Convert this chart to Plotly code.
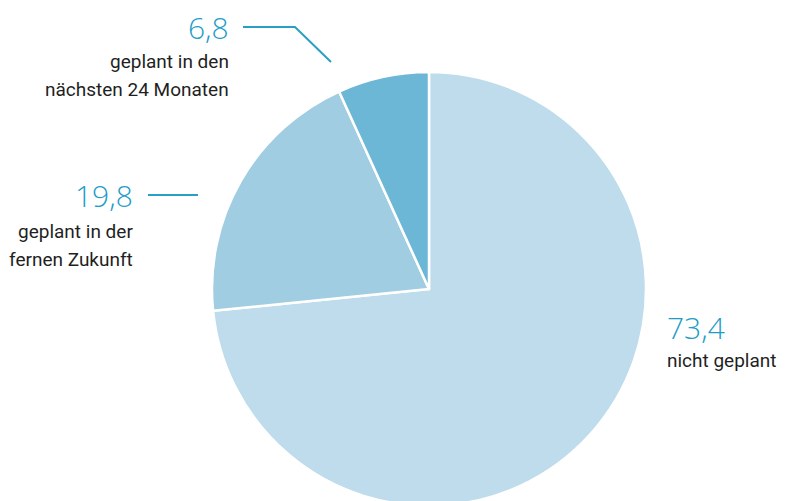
import plotly.graph_objects as go

labels = ["nicht geplant", "geplant in der fernen Zukunft", "geplant in den nächsten 24 Monaten"]
values = [73.4, 19.8, 6.8]
value_text = ["73,4", "19,8", "6,8"]
colors = ["#bfdcec", "#a0cde1", "#6db7d6"]

W, H = 795, 520
def px(x):
    return x / W
def py(y):
    return 1 - y / H

cx, cy, r = 429, 289, 217

fig = go.Figure(go.Pie(
    labels=labels, values=values, sort=False, direction="clockwise", rotation=0,
    marker=dict(colors=colors, line=dict(color="white", width=2.5)),
    textinfo="none", hoverinfo="label+value", showlegend=False,
    domain=dict(x=[px(cx - r), px(cx + r)], y=[py(cy + r), py(cy - r)]),
))

num_font = dict(family="Open Sans", size=30, color="#1e9dc8", weight=300)
txt_font = dict(family="Roboto", size=19, color="#1f1f1f")

ann = [
    (229, 27, value_text[2], num_font, "right"),
    (229, 61, "geplant in den", txt_font, "right"),
    (229, 89, "nächsten 24 Monaten", txt_font, "right"),
    (133, 195, value_text[1], num_font, "right"),
    (133, 231, "geplant in der", txt_font, "right"),
    (133, 259, "fernen Zukunft", txt_font, "right"),
    (667, 327, value_text[0], num_font, "left"),
    (667, 360, "nicht geplant", txt_font, "left"),
]
for x, y, t, f, al in ann:
    fig.add_annotation(x=px(x), y=py(y), xref="paper", yref="paper", text=t,
                       showarrow=False, font=f, xanchor=al, yanchor="middle",
                       xshift=(2 if al == "right" else -2))

line = dict(color="#2a9fc4", width=2)
fig.add_shape(type="path", xref="paper", yref="paper",
              path=f"M {px(243)} {py(27)} L {px(295)} {py(27)} L {px(331)} {py(62)}", line=line)
fig.add_shape(type="line", xref="paper", yref="paper",
              x0=px(148), y0=py(195), x1=px(198), y1=py(195), line=line)

fig.update_layout(width=W, height=H, margin=dict(l=0, r=0, t=0, b=0),
                  paper_bgcolor="white", plot_bgcolor="white")
fig.write_html("out.html")
